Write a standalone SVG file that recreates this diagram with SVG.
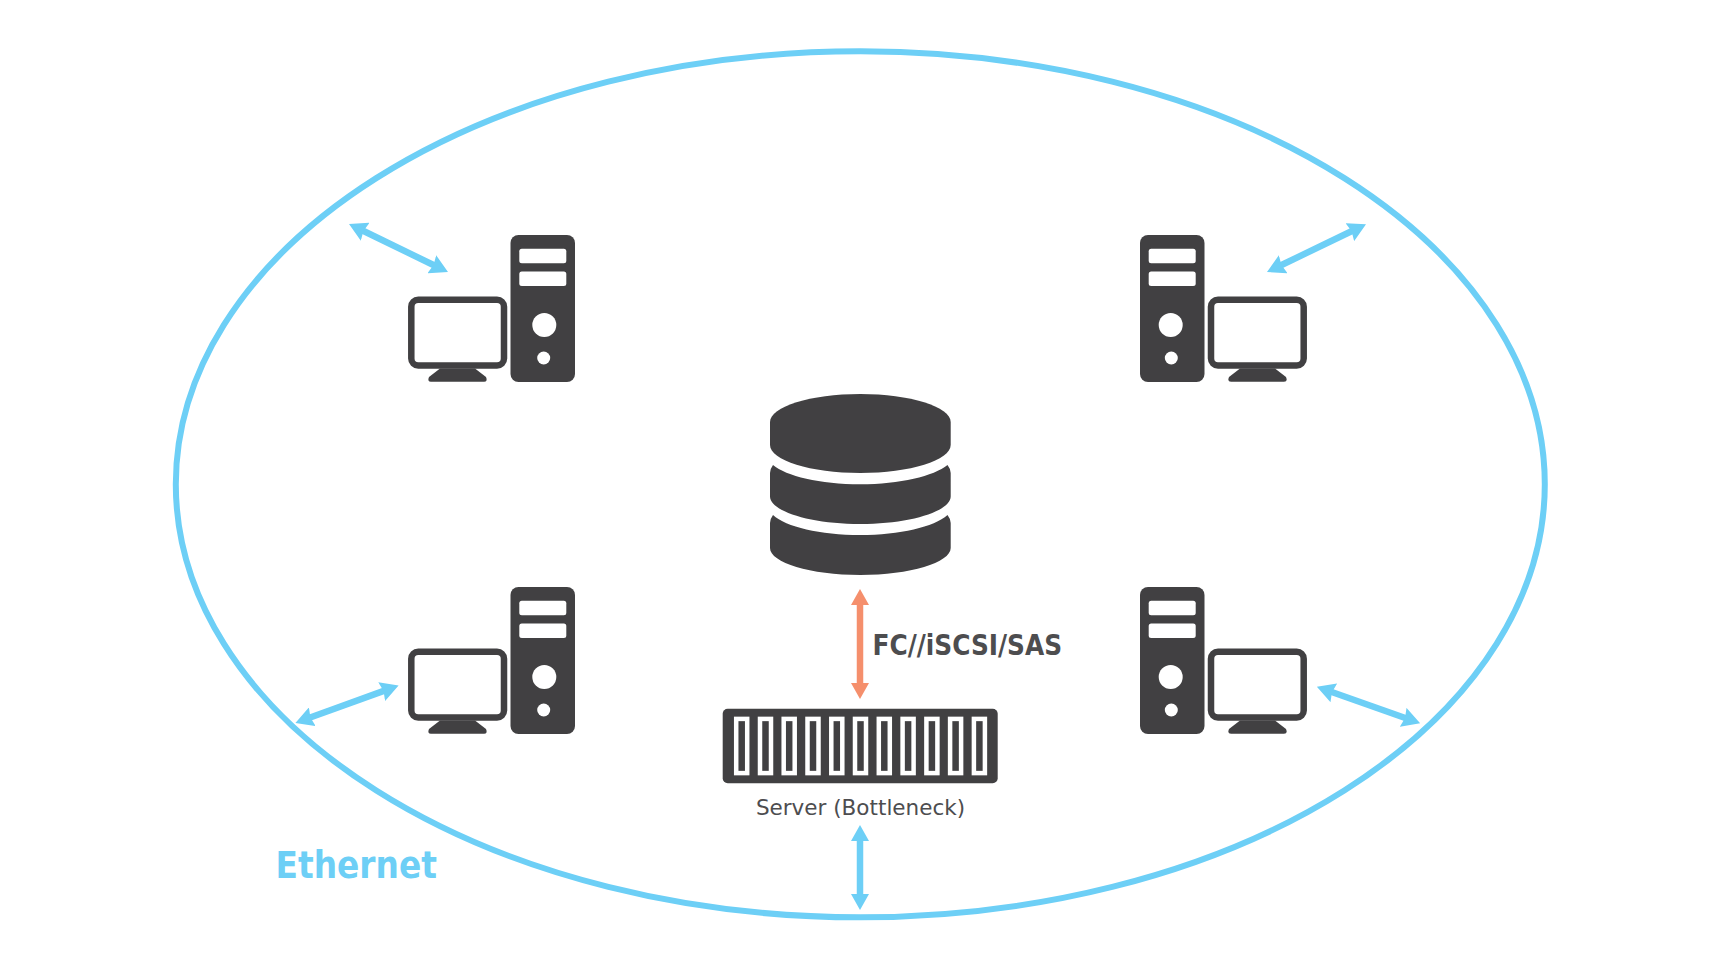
<svg xmlns="http://www.w3.org/2000/svg" xmlns:xlink="http://www.w3.org/1999/xlink" width="1720" height="968" viewBox="0 0 1720 968">
<style>
.dark{fill:#414042}
.hole{fill:#fff}
.blue{stroke:#6dcff6;stroke-width:6.500;fill:none}
.org{stroke:#f58f6c;stroke-width:6.500;fill:none}
text{font-family:"DejaVu Sans",sans-serif}
.cond{font-stretch:condensed}
</style>
<defs>
<marker id="ab" markerUnits="userSpaceOnUse" viewBox="-3 -10 18 20" markerWidth="18" markerHeight="20" refX="0" refY="0" orient="auto-start-reverse"><path d="M-3-10L15 0L-3 10L-1 0z" fill="#6dcff6"/></marker>
<marker id="av" markerUnits="userSpaceOnUse" viewBox="0 -9 16 18" markerWidth="16" markerHeight="18" refX="0" refY="0" orient="auto-start-reverse"><path d="M0-9L16 0L0 9z" fill="#6dcff6"/></marker>
<marker id="ao" markerUnits="userSpaceOnUse" viewBox="0 -9 16 18" markerWidth="16" markerHeight="18" refX="0" refY="0" orient="auto-start-reverse"><path d="M0-9L16 0L0 9z" fill="#f58f6c"/></marker>
<g id="tower">
<rect class="dark" x="510.500" y="235" width="64.500" height="147" rx="8"/>
<rect class="hole" x="519.300" y="248.700" width="47" height="14.500" rx="2.500"/>
<rect class="hole" x="519.300" y="271.500" width="47" height="14.500" rx="2.500"/>
<circle class="hole" cx="544.300" cy="325" r="12"/>
<circle class="hole" cx="543.700" cy="358" r="6.500"/>
</g>
<g id="monitor">
<rect x="411.300" y="299.800" width="92.700" height="65.700" rx="7" fill="#fff" stroke="#414042" stroke-width="6.500"/>
<path class="dark" d="M440 368.500H475L486 377Q488 381.800 484 381.800H431Q427 381.800 429 377Z"/>
</g>
</defs>
<ellipse cx="860.300" cy="484.300" rx="684.500" ry="433" fill="none" stroke="#6dcff6" stroke-width="6"/>
<g id="pc-top-left"><use href="#tower"/><use href="#monitor"/></g>
<g id="pc-top-right" transform="matrix(-1 0 0 1 1715 0)"><use href="#tower"/><use href="#monitor"/></g>
<g id="pc-bottom-left" transform="translate(0 352)"><use href="#tower"/><use href="#monitor"/></g>
<g id="pc-bottom-right" transform="matrix(-1 0 0 1 1715 352)"><use href="#tower"/><use href="#monitor"/></g>
<g id="database">
<path class="dark" d="M770 422C770 406.800 810.500 394 860.300 394C910 394 950.700 406.800 950.700 422V445C950.700 460.200 910 473 860.300 473C810.500 473 770 460.200 770 445Z"/>
<path class="dark" d="M773 465C786 476 820 484.300 860.300 484.300C900 484.300 934 476 947.500 465Q950.700 469 950.700 473V496.500C950.700 511.300 910 524 860.300 524C810.500 524 770 511.300 770 496.500V473Q770 469 773 465Z"/>
<path class="dark" d="M773 515C786 527 820 535 860.300 535C900 535 934 527 947.500 515Q950.700 519 950.700 523V548C950.700 562.500 910 575 860.300 575C810.500 575 770 562.500 770 548V523Q770 519 773 515Z"/>
</g>
<g id="server">
<rect class="dark" x="722.700" y="708.700" width="275" height="74.600" rx="5"/>
<g fill="none" stroke="#fff" stroke-width="4.500">
<rect x="736.200" y="718.900" width="11" height="54.200"/>
<rect x="760" y="718.900" width="11" height="54.200"/>
<rect x="783.700" y="718.900" width="11" height="54.200"/>
<rect x="807.500" y="718.900" width="11" height="54.200"/>
<rect x="831.300" y="718.900" width="11" height="54.200"/>
<rect x="855" y="718.900" width="11" height="54.200"/>
<rect x="878.800" y="718.900" width="11" height="54.200"/>
<rect x="902.600" y="718.900" width="11" height="54.200"/>
<rect x="926.400" y="718.900" width="11" height="54.200"/>
<rect x="950.100" y="718.900" width="11" height="54.200"/>
<rect x="973.900" y="718.900" width="11" height="54.200"/>
</g>
<text x="860.500" y="814.500" font-size="21.500" fill="#4d4d4f" text-anchor="middle">Server (Bottleneck)</text>
</g>
<g id="connectors">
<path class="org" d="M860 605V683" marker-start="url(#ao)" marker-end="url(#ao)"/>
<path class="blue" d="M860 841V894" marker-start="url(#av)" marker-end="url(#av)"/>
<path class="blue" d="M362.500 230.500L434.500 265.500" marker-start="url(#ab)" marker-end="url(#ab)"/>
<path class="blue" d="M1280.500 265.500L1352.500 230.800" marker-start="url(#ab)" marker-end="url(#ab)"/>
<path class="blue" d="M309.500 717.800L384.500 690.600" marker-start="url(#ab)" marker-end="url(#ab)"/>
<path class="blue" d="M1331 691.800L1406 718.300" marker-start="url(#ab)" marker-end="url(#ab)"/>
</g>
<text id="label-fc" class="cond" x="872.500" y="654.500" font-size="27.600" font-weight="700" fill="#4d4d4f">FC//iSCSI/SAS</text>
<text id="label-ethernet" class="cond" x="275.500" y="878" font-size="36.500" font-weight="700" fill="#6dcff6">Ethernet</text>
</svg>
